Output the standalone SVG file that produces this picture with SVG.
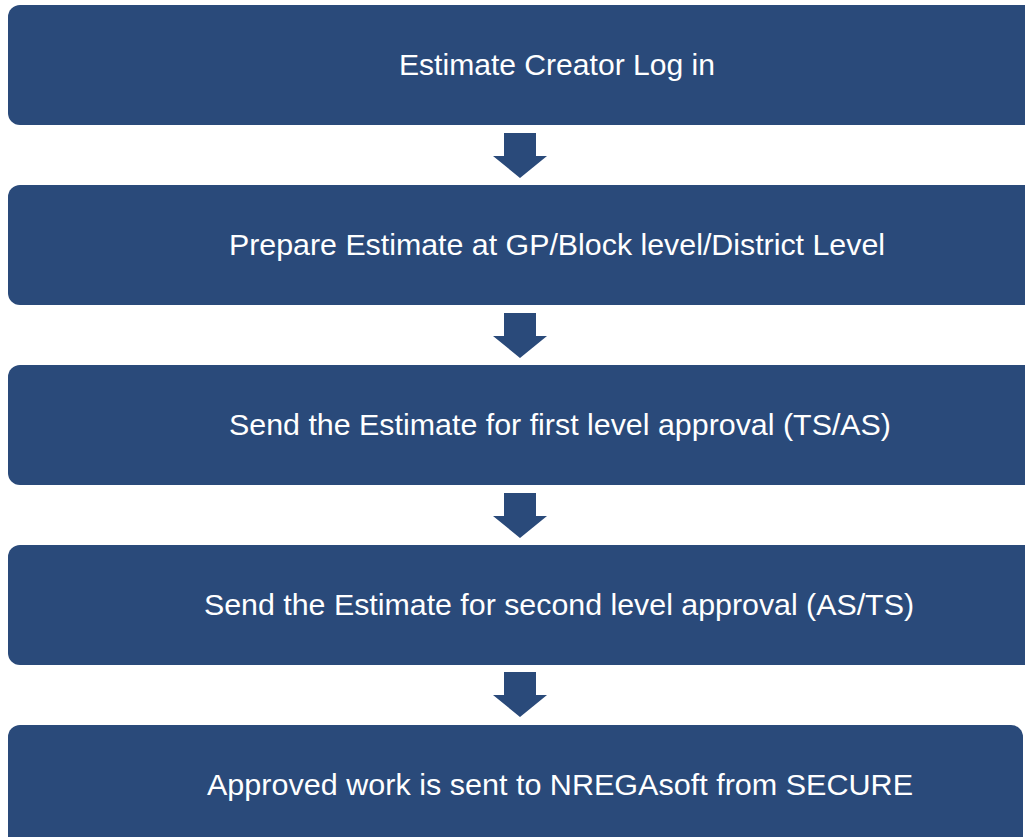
<svg xmlns="http://www.w3.org/2000/svg" width="1025" height="837" viewBox="0 0 1025 837">
<style>
.box{fill:#2a4a7a;}
.lbl{fill:#ffffff;font-family:"Liberation Sans",Arial,Helvetica,sans-serif;font-size:30px;}
.arr{fill:#2a4a7a;}
</style>
<rect width="1025" height="837" fill="#ffffff"/>
<g id="connectors">
<polygon class="arr" points="504,133 536,133 536,156 547,156 520,178 493,156 504,156"/>
<polygon class="arr" points="504,313 536,313 536,336 547,336 520,358 493,336 504,336"/>
<polygon class="arr" points="504,493 536,493 536,516 547,516 520,538 493,516 504,516"/>
<polygon class="arr" points="504,672 536,672 536,695 547,695 520,717 493,695 504,695"/>
</g>
<g id="node1">
<rect class="box" x="8" y="5" width="1028" height="120" rx="12"/>
<text class="lbl" x="399" y="75" textLength="316" lengthAdjust="spacingAndGlyphs">Estimate Creator Log in</text>
</g>
<g id="node2">
<rect class="box" x="8" y="185" width="1028" height="120" rx="12"/>
<text class="lbl" x="229" y="255" textLength="656" lengthAdjust="spacingAndGlyphs">Prepare Estimate at GP/Block level/District Level</text>
</g>
<g id="node3">
<rect class="box" x="8" y="365" width="1028" height="120" rx="12"/>
<text class="lbl" x="229" y="435" textLength="662" lengthAdjust="spacingAndGlyphs">Send the Estimate for first level approval (TS/AS)</text>
</g>
<g id="node4">
<rect class="box" x="8" y="545" width="1028" height="120" rx="12"/>
<text class="lbl" x="204" y="615" textLength="710" lengthAdjust="spacingAndGlyphs">Send the Estimate for second level approval (AS/TS)</text>
</g>
<g id="node5">
<rect class="box" x="8" y="725" width="1015" height="130" rx="12"/>
<text class="lbl" x="207" y="795" textLength="706" lengthAdjust="spacingAndGlyphs">Approved work is sent to NREGAsoft from SECURE</text>
</g>
</svg>
